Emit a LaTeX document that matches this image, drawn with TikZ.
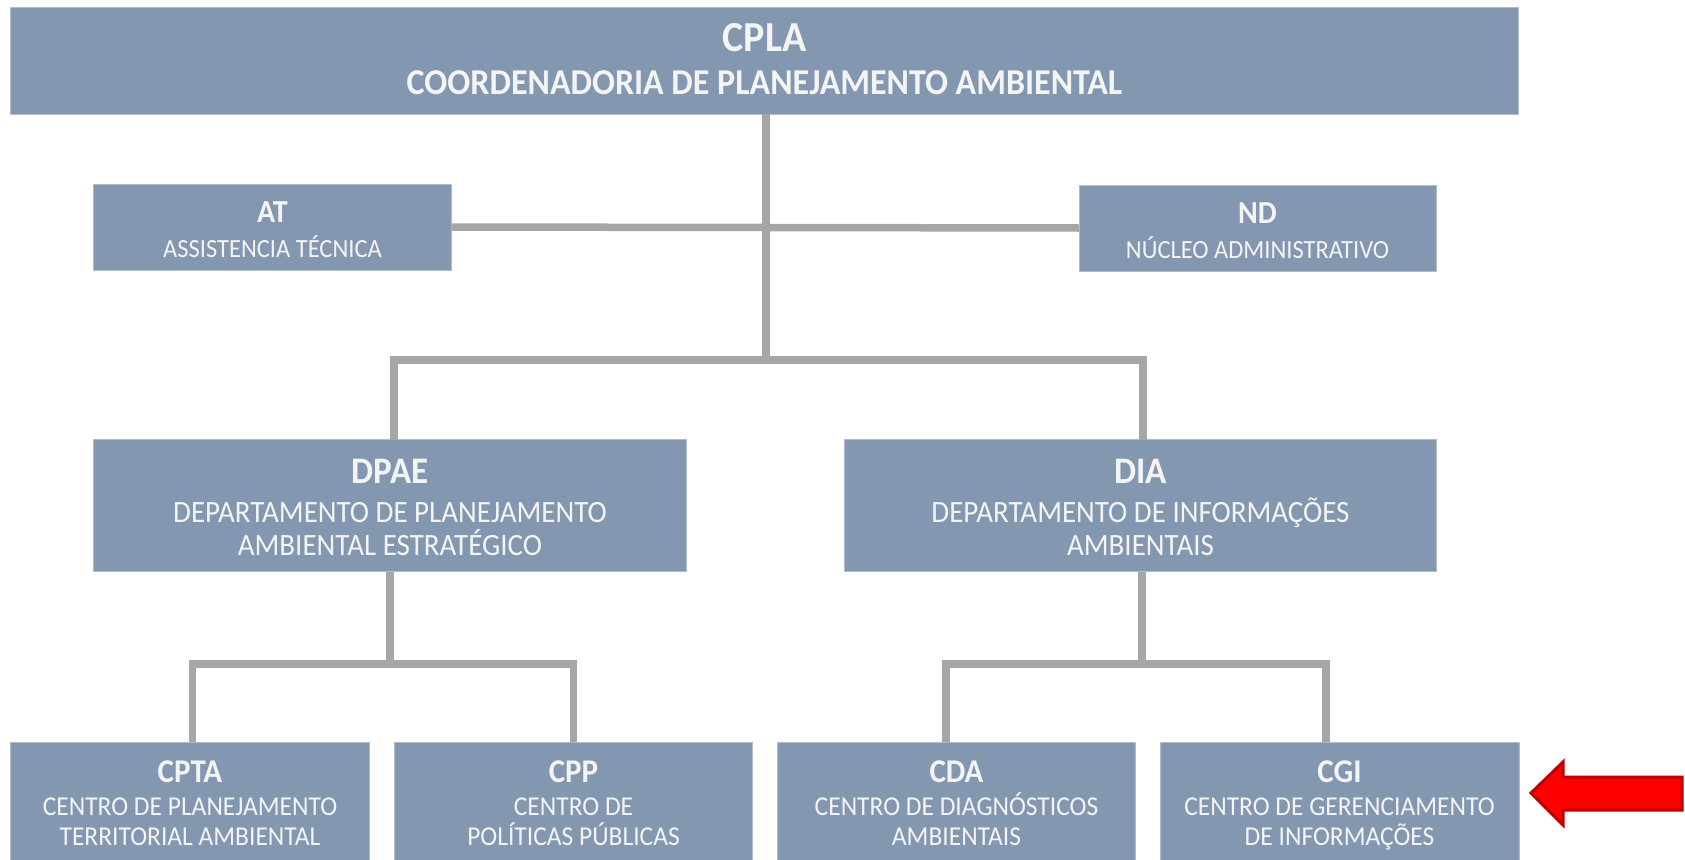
\documentclass[tikz,border=0pt]{standalone}
\usepackage{fontspec}
\setmainfont{Carlito}
\definecolor{boxc}{HTML}{8497B0}
\definecolor{boxedge}{HTML}{B0BCCC}
\definecolor{linec}{HTML}{A6A6A6}
\definecolor{txtc}{HTML}{F4F4F4}
\definecolor{arrfill}{HTML}{FF0000}
\definecolor{arrdraw}{HTML}{C00000}
\newcommand{\vs}[1]{\scalebox{1}[1.07]{#1}}
\tikzset{
  box/.style={fill=boxc, draw=boxedge, line width=0.8pt, inner sep=0pt, outer sep=0pt, anchor=north west},
  ttl/.style={text=txtc, font=\bfseries\fontsize{#1}{#1}\selectfont, anchor=base, inner sep=0pt},
  subt/.style={text=txtc, font=\fontsize{#1}{#1}\selectfont, anchor=base, inner sep=0pt},
  subb/.style={text=txtc, font=\bfseries\fontsize{#1}{#1}\selectfont, anchor=base, inner sep=0pt},
  link/.style={draw=linec, line width=7.5pt, line join=miter},
  redarrow/.style={fill=arrfill, draw=arrdraw, line width=3pt, line join=miter},
}
\begin{document}
\begin{tikzpicture}[x=1pt,y=-1pt]
\useasboundingbox[fill=white] (0,0) rectangle (1685,859);

% boxes
\node[box, minimum width=1508pt, minimum height=107pt] (cpla) at (10.5,7) {};
\node[box, minimum width=358pt, minimum height=86pt] (at) at (93.5,184) {};
\node[box, minimum width=357.5pt, minimum height=86pt] (nd) at (1079,185) {};
\node[box, minimum width=593pt, minimum height=132pt] (dpae) at (93.5,439.5) {};
\node[box, minimum width=592pt, minimum height=132pt] (dia) at (844.5,439.5) {};
\node[box, minimum width=359pt, minimum height=125pt] (cpta) at (10.5,742) {};
\node[box, minimum width=358pt, minimum height=125pt] (cpp) at (394.5,742) {};
\node[box, minimum width=358pt, minimum height=125pt] (cda) at (777.5,742) {};
\node[box, minimum width=359pt, minimum height=125pt] (cgi) at (1160,742) {};

% connector junctions
\coordinate (j2) at (766,360);
\coordinate (b1) at (394,360);
\coordinate (b2) at (1143,360);
\coordinate (c0) at (390,664);
\coordinate (c1) at (192.5,664);
\coordinate (c2) at (573.5,664);
\coordinate (d0) at (1142,664);
\coordinate (d1) at (946,664);
\coordinate (d2) at (1326,664);

% connectors
\draw[link] (at.east) -- (nd.west);
\draw[link] (cpla.south -| j2) -- (j2);
\draw[link] (dpae.north -| b1) -- (b1) -- (b2) -- (dia.north -| b2);
\draw[link] (dpae.south -| c0) -- (c0);
\draw[link] (cpta.north -| c1) -- (c1) -- (c2) -- (cpp.north -| c2);
\draw[link] (dia.south -| d0) -- (d0);
\draw[link] (cda.north -| d1) -- (d1) -- (d2) -- (cgi.north -| d2);

% texts
\node[ttl=40] (cpla-t) at (764.5,52) {\vs{CPLA}};
\node[subb=34] (cpla-s) at (764.5,94) {\vs{COORDENADORIA DE PLANEJAMENTO AMBIENTAL}};

\node[ttl=30] (at-t) at (272.5,222) {\vs{AT}};
\node[subt=24.5] (at-s) at (272.5,257) {\vs{ASSISTENCIA TÉCNICA}};

\node[ttl=30] (nd-t) at (1257.5,223) {\vs{ND}};
\node[subt=24.5] (nd-s) at (1257.5,258) {\vs{NÚCLEO ADMINISTRATIVO}};

\node[ttl=35] (dpae-t) at (390,483) {\vs{DPAE}};
\node[subt=29] (dpae-s1) at (390,522) {\vs{DEPARTAMENTO DE PLANEJAMENTO}};
\node[subt=29] (dpae-s2) at (390,555) {\vs{AMBIENTAL ESTRATÉGICO}};

\node[ttl=35] (dia-t) at (1140.5,483) {\vs{DIA}};
\node[subt=29] (dia-s1) at (1140.5,522) {\vs{DEPARTAMENTO DE INFORMAÇÕES}};
\node[subt=29] (dia-s2) at (1140.5,555) {\vs{AMBIENTAIS}};

\node[ttl=31] (cpta-t) at (190,782) {\vs{CPTA}};
\node[subt=25.5] (cpta-s1) at (190,815) {\vs{CENTRO DE PLANEJAMENTO}};
\node[subt=25.5] (cpta-s2) at (190,845) {\vs{TERRITORIAL AMBIENTAL}};

\node[ttl=31] (cpp-t) at (573.5,782) {\vs{CPP}};
\node[subt=25.5] (cpp-s1) at (573.5,815) {\vs{CENTRO DE}};
\node[subt=25.5] (cpp-s2) at (573.5,845) {\vs{POLÍTICAS PÚBLICAS}};

\node[ttl=31] (cda-t) at (956.5,782) {\vs{CDA}};
\node[subt=25.5] (cda-s1) at (956.5,815) {\vs{CENTRO DE DIAGNÓSTICOS}};
\node[subt=25.5] (cda-s2) at (956.5,845) {\vs{AMBIENTAIS}};

\node[ttl=31] (cgi-t) at (1339.5,782) {\vs{CGI}};
\node[subt=25.5] (cgi-s1) at (1339.5,815) {\vs{CENTRO DE GERENCIAMENTO}};
\node[subt=25.5] (cgi-s2) at (1339.5,845) {\vs{DE INFORMAÇÕES}};

% red arrow
\coordinate (arrtip) at (1531,793);
\draw[redarrow] (arrtip) -- (1563,762) -- (1563,777) -- (1682,777) -- (1682,810) -- (1563,810) -- (1563,825) -- cycle;
\end{tikzpicture}
\end{document}
